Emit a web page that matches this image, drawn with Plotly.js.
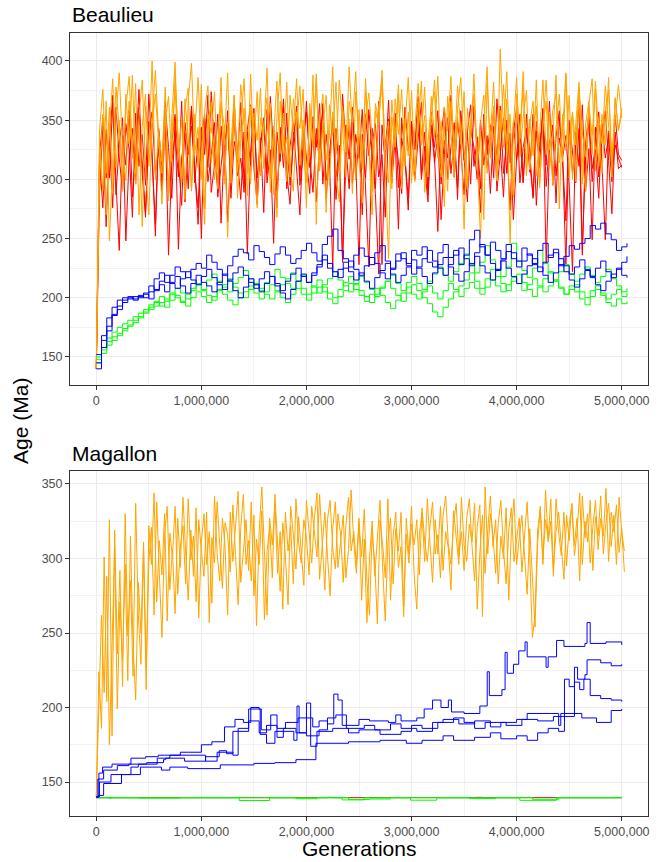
<!DOCTYPE html>
<html><head><meta charset="utf-8">
<script src="https://cdn.plot.ly/plotly-3.0.1.min.js"></script>
<style>html,body{margin:0;padding:0;background:#fff;}#chart{width:660px;height:862px;}</style>
</head><body><div id="chart"></div>
<script>
// ---------- tick labels ----------
const genTicks = [0, 1000000, 2000000, 3000000, 4000000, 5000000];
const genTickLabels = ['0', '1,000,000', '2,000,000', '3,000,000', '4,000,000', '5,000,000'];
const beaAgeTicks = [150, 200, 250, 300, 350, 400];
const magAgeTicks = [150, 200, 250, 300, 350];

// ---------- Beaulieu (sampled every 31,250 generations) ----------
const beaNoisyEvery = 31250;
const beaOrangeA = [140,300,355,270,340,385,310,350,290,372,330,388,305,345,260,362,325,400,300,340,
315,378,282,352,399,320,298,368,335,290,355,310,380,275,342,365,300,322,386,296,
348,312,371,284,333,360,305,389,318,276,352,337,394,301,345,268,366,328,382,310,
290,357,343,376,299,321,388,262,349,372,316,337,395,304,281,362,329,351,288,374,
341,309,385,326,270,358,346,392,315,297,367,334,380,292,352,320,375,306,344,383,
289,331,363,374,318,349,277,370,338,301,359,386,323,295,348,372,312,340,266,381,
327,356,299,410,342,391,314,287,360,335,378,303,351,320,384,296,345,366,309,333,
388,275,355,324,371,300,347,382,318,290,362,337,376,311,355,329,386,302,368,341,356];
const beaOrangeB = [140,330,290,366,248,318,378,342,301,360,387,325,296,352,384,310,270,346,372,331,
305,361,289,339,376,318,352,283,367,398,322,344,300,358,379,314,337,292,363,345,
251,328,371,306,349,385,320,296,356,333,377,309,341,364,287,352,390,318,336,302,
368,344,379,325,297,358,333,386,311,348,272,363,337,382,305,356,323,395,341,300,
359,318,374,336,290,364,349,381,314,233,353,327,372,305,345,386,319,298,366,337,
378,312,350,384,326,302,361,341,387,309,353,330,374,291,349,368,317,250,343,395,
318,362,299,338,380,322,355,285,372,334,391,310,346,366,303,337,384,321,357,295,
344,372,315,388,331,357,298,376,340,319,364,385,307,352,330,379,346,312,369,341,360];
const beaOrangeC = [140,342,376,305,361,288,352,390,327,299,366,318,381,270,345,372,311,356,392,336,
279,349,370,315,387,332,301,359,377,292,343,386,320,262,355,339,374,308,366,329,
390,297,353,317,380,344,286,362,331,374,303,347,369,289,335,383,322,356,298,371,
340,385,312,350,276,364,328,389,307,344,371,295,357,321,384,339,302,366,348,391,
317,280,352,373,334,305,362,386,325,349,292,368,338,376,311,357,297,343,381,329,
354,302,370,336,387,313,345,290,366,323,379,341,258,360,332,389,316,348,371,305,
337,382,299,358,327,368,246,344,386,319,352,375,308,339,362,293,347,384,325,358,
372,314,341,390,301,356,329,378,296,347,366,321,383,337,305,359,375,318,349,380,352];
const beaRedA = [140,290,345,260,332,371,298,240,337,312,358,285,322,376,304,268,349,316,262,341,
298,363,327,284,350,241,318,339,292,360,305,276,344,321,371,289,312,355,263,330,
348,297,365,318,283,340,237,324,356,301,335,272,359,314,345,290,327,368,305,279,
338,352,295,320,366,310,342,281,331,360,299,318,225,343,306,372,329,292,354,317,
228,338,301,359,322,288,220,346,313,367,297,335,258,352,319,284,348,326,370,305,
340,292,357,318,256,336,361,300,327,348,283,354,316,339,296,362,324,272,347,310,
334,358,290,321,352,305,339,266,318,355,298,342,313,286,349,324,360,294,331,345,
280,352,318,337,296,222,340,311,363,290,326,249,344,302,335,358,316,271,340,309,312];
const beaRedB = [140,320,352,301,334,276,361,318,290,347,325,268,356,311,338,295,372,324,252,343,
309,366,287,330,355,314,278,348,321,362,297,335,250,351,310,374,326,292,345,303,
358,284,332,319,365,296,340,312,360,287,328,349,305,370,321,276,344,310,356,295,
331,362,302,345,318,288,353,327,364,296,338,310,352,283,329,230,346,317,361,300,
336,270,355,320,343,292,366,228,330,351,306,340,315,288,361,324,347,300,334,365,
310,281,345,327,358,296,333,318,371,302,349,325,287,340,363,311,336,292,355,321,
346,301,368,329,285,350,314,339,360,297,327,343,306,355,278,332,348,312,366,295,
336,358,317,228,344,305,330,362,240,320,347,298,335,357,313,249,341,306,329,318,310];
const beaRedC = [140,318,276,342,301,365,287,330,352,248,319,343,296,361,313,272,338,357,305,326,
290,349,236,315,338,302,366,281,327,345,309,262,334,355,298,320,348,285,311,339,
264,326,350,303,318,289,342,363,310,279,331,352,297,325,246,340,315,361,292,328,
347,306,270,335,357,318,289,343,312,364,284,322,350,301,327,232,313,345,296,338,
318,359,285,226,330,347,302,321,268,343,311,356,293,335,317,274,349,325,362,300,
328,287,346,314,338,266,321,352,305,334,293,358,318,281,342,327,300,350,312,337,
288,345,320,362,305,331,274,348,316,339,297,355,323,284,341,310,359,229,328,346,
303,335,317,265,350,322,297,343,236,331,356,309,325,284,347,318,336,298,354,321,316];

// ---------- Beaulieu (sampled every 50,000 generations) ----------
const beaStepEvery = 50000;
const beaBlue1 = [145,168,183,192,198,200,201,199,202,200,205,216,221,213,219,226,222,217,224,229,225,
236,230,224,219,227,235,241,238,232,244,
239,234,228,237,243,236,229,233,240,246,
238,231,245,252,258,240,233,226,236,242,
235,228,238,244,231,225,237,233,229,240,
236,243,230,226,238,245,234,240,228,236,
249,257,243,236,247,240,233,245,238,231,
242,236,229,240,246,234,238,227,235,244,
241,246,250,261,258,263,254,249,240,243,246];
const beaBlue2 = [140,158,176,186,190,196,199,201,200,204,210,207,214,219,212,208,216,222,215,211,218,
224,217,211,207,215,221,226,219,213,208,
216,222,218,212,206,214,220,225,218,213,
221,228,236,229,222,217,225,231,224,219,
227,234,229,221,216,224,231,238,227,220,
226,233,240,231,225,219,228,236,242,233,
227,238,245,236,229,223,232,239,233,226,
231,237,228,222,230,236,241,233,227,220,
226,232,224,218,225,231,222,217,224,230,235];
const beaBlue3 = [152,164,172,185,193,198,200,198,201,203,199,206,211,205,213,218,210,204,212,219,213,
210,205,213,220,214,206,200,209,216,211,
205,212,218,210,204,199,207,214,220,213,
219,226,232,225,218,224,230,222,215,221,
214,208,217,223,229,220,213,219,226,232,
225,218,212,221,228,234,226,220,214,222,
229,235,227,221,215,224,231,225,218,212,
220,227,233,226,219,213,221,228,222,215,
209,216,223,217,211,206,214,220,225,219,217];
const beaGreen1 = [150,158,166,171,175,178,181,184,187,190,194,197,193,199,204,200,196,203,208,212,206,
202,198,206,211,216,209,204,200,207,212,
208,203,199,205,211,216,221,214,208,203,
210,215,209,204,200,207,213,218,211,206,
201,196,203,209,214,208,202,197,204,211,
206,200,195,188,184,192,199,205,210,215,
221,214,208,216,224,218,212,206,214,220,
213,207,201,209,216,222,215,209,203,210,
205,199,194,201,207,202,196,193,199,195,197];
const beaGreen2 = [145,156,163,167,170,174,177,181,184,188,192,196,201,197,203,208,204,199,206,211,207,
215,220,214,209,205,212,217,223,216,211,
206,213,218,224,217,212,208,214,219,213,
209,204,211,216,222,215,210,205,212,218,
213,207,201,208,214,219,212,206,213,218,
212,207,214,220,226,219,214,222,229,237,
228,221,230,244,232,224,218,226,246,231,
223,217,225,240,229,221,215,222,228,220,
214,220,226,219,213,218,224,216,210,205,208];
const beaGreen3 = [148,153,160,164,168,172,176,179,183,187,190,193,196,192,198,202,197,193,200,205,201,
196,201,207,203,198,194,200,205,210,204,
199,205,211,206,200,196,203,208,203,198,
204,209,205,199,195,201,206,212,207,202,
197,203,208,202,196,191,198,204,209,203,
199,205,210,204,199,206,212,207,201,208,
213,208,203,209,215,210,205,211,217,212,
206,211,216,210,205,210,214,208,203,207,
211,205,200,206,210,204,199,203,207,201,204];

// ---------- Magallon (sampled every 25,000 generations) ----------
const magOrangeEvery = 25000;
const magOrangeA = [140,224,186,301,204,326,181,319,236,292,214,330,248,285,221,337,262,229,305,212,322,
296,344,271,312,289,330,258,317,301,335,276,308,322,283,340,299,315,271,326,305,
288,331,257,314,297,338,309,280,324,316,291,336,302,269,321,343,296,312,285,329,
255,318,348,300,262,327,309,337,290,318,266,331,305,322,283,340,311,297,326,314,
289,335,318,301,343,312,279,326,339,307,293,330,316,284,322,341,305,318,296,327,
272,313,257,300,325,288,317,339,294,258,311,327,283,320,305,331,268,316,297,323,
309,326,289,334,312,298,321,338,303,316,287,329,342,310,296,324,337,301,318,292,
327,340,309,285,321,336,261,348,303,330,316,290,324,339,306,283,319,334,298,312,
327,291,317,338,301,247,262,319,333,296,346,311,325,288,340,317,302,331,295,322,
336,309,327,285,342,314,330,297,321,339,306,327,315,347,298,331,318,336,304,320,291];
const magOrangeB = [140,196,262,210,288,175,247,308,199,271,232,296,218,315,243,205,284,250,311,226,298,
321,262,338,290,247,316,335,279,306,263,327,294,341,305,272,319,288,334,260,311,
330,296,318,270,342,303,285,327,309,262,331,298,319,345,284,307,326,292,338,275,
313,296,332,259,305,321,287,343,311,278,324,301,269,335,316,293,328,306,282,339,
318,297,326,344,286,309,331,302,275,320,338,294,313,329,287,306,346,311,290,324,
301,333,285,262,318,297,256,326,309,287,340,272,315,331,294,308,261,327,303,335,
289,266,317,331,298,340,311,284,326,303,335,292,318,307,279,332,314,296,341,309,
298,323,311,337,266,304,329,290,319,342,308,326,283,315,300,334,272,318,340,296,
314,329,302,276,320,289,254,310,335,299,326,313,340,293,318,331,307,286,329,312,
337,302,318,344,296,325,311,339,292,328,315,342,303,324,337,308,329,296,341,318,305];

// blue / green / red chains: generation at which each new state was accepted, and its age
const magBlue1Gen = [0,25000,60000,150000,330000,470000,590000,800000,1000000,1100000,1220000,1320000,1400000,1470000,1550000,1570000,1660000,1720000,1800000,1920000,2060000,2120000,2200000,2260000,2300000,2340000,2500000,2600000,2780000,2850000,2900000,3050000,3120000,3200000,3280000,3350000,3380000,3500000,3650000,3720000,3740000,3860000,3890000,3910000,3970000,4020000,4080000,4100000,4280000,4300000,4380000,4450000,4650000,4670000,4700000,4850000,5000000];
const magBlue1Age = [140,156,160,162,166,167,168,170,175,177,187,192,190,200,199,185,195,186,190,193,187,191,189,209,205,188,192,191,190,195,191,193,199,205,200,205,197,196,201,224,208,212,237,223,229,238,244,234,227,234,245,241,243,257,243,244,242];
const magBlue2Gen = [0,15000,70000,200000,310000,480000,640000,660000,840000,1040000,1170000,1240000,1300000,1450000,1560000,1620000,1700000,1880000,1910000,1930000,2000000,2040000,2100000,2250000,2400000,2500000,2700000,2900000,3000000,3100000,3250000,3400000,3500000,3600000,3700000,3900000,4050000,4200000,4350000,4550000,4580000,4650000,4670000,4800000,4900000,5000000];
const magBlue2Age = [140,152,158,161,162,163,165,166,164,167,171,169,184,199,182,176,184,178,201,183,203,174,184,186,183,185,182,184,188,186,190,193,190,186,190,188,192,191,194,227,219,222,232,230,228,229];
const magBlue3Gen = [0,20000,70000,240000,420000,620000,700000,870000,1180000,1500000,1700000,1900000,2090000,2400000,2700000,2950000,3100000,3300000,3400000,3600000,3750000,3850000,4000000,4100000,4200000,4300000,4400000,4455000,4500000,4550000,4600000,4640000,4700000,4800000,4900000,5000000];
const magBlue3Age = [140,141,149,155,160,158,160,159,161.5,162.5,163,165,176,177,178,176,178,181,178,180,183,179,181,178,183,186,184,219,214,217,212,219,208,206,205,204];
const magBlue4Gen = [0,30000,140000,330000,400000,580000,700000,1040000,1150000,1300000,1350000,1450000,1550000,1620000,1720000,1780000,1900000,2000000,2120000,2200000,2280000,2380000,2550000,2650000,2800000,2900000,3050000,3200000,3300000,3450000,3600000,3750000,3850000,4000000,4100000,4320000,4400000,4420000,4620000,4760000,4900000,5000000];
const magBlue4Age = [140,150,155,160,162,166,168,164,170,168,186,191,183,188,180,186,183,181,185,193,195,186,188,185,189,186,184,190,192,189,191,187,190,192,196,196,188,196,193,190,198,199];
const magGreen1Gen = [0,120000,140000,1360000,1650000,2340000,2550000,2990000,3240000,4030000,4380000,5000000];
const magGreen1Age = [139.4,139.1,139.4,137.6,139.4,138.0,139.4,137.8,139.4,137.7,139.4,139.4];
const magGreen2Gen = [0,400000,800000,1900000,2100000,2400000,2600000,2800000,3550000,3800000,4150000,4400000,5000000];
const magGreen2Age = [139.5,139.2,139.5,138.8,139.5,138.3,138.6,139.5,138.9,139.5,138.4,139.5,139.5];
const magRedGen = [0,2200000,2260000,3600000,3680000,5000000];
const magRedAge = [139.5,139.7,139.5,139.7,139.5,139.5];

// ---------- build ----------
function sampleGens(n, every) { const g = []; for (let i = 0; i < n; i++) g.push(i * every); return g; }
const RED = '#FF0000', ORANGE = '#FFA500', GREEN = '#00FF00', BLUE = '#0000FF';
function tr(x, y, color, xa, ya, shape) {
  return {x: x, y: y, type: 'scatter', mode: 'lines', xaxis: xa, yaxis: ya,
          line: {color: color, width: 1, shape: shape || 'linear'}, hoverinfo: 'skip'};
}
const traces = [];
[beaRedA, beaRedB, beaRedC].forEach(s => traces.push(tr(sampleGens(s.length, beaNoisyEvery), s, RED, 'x', 'y')));
[beaOrangeA, beaOrangeB, beaOrangeC].forEach(s => traces.push(tr(sampleGens(s.length, beaNoisyEvery), s, ORANGE, 'x', 'y')));
[beaGreen1, beaGreen2, beaGreen3].forEach(s => traces.push(tr(sampleGens(s.length, beaStepEvery), s, GREEN, 'x', 'y', 'hv')));
[beaBlue1, beaBlue2, beaBlue3].forEach(s => traces.push(tr(sampleGens(s.length, beaStepEvery), s, BLUE, 'x', 'y', 'hv')));

traces.push(tr(magRedGen, magRedAge, RED, 'x2', 'y2', 'hv'));
[magOrangeA, magOrangeB].forEach(s => traces.push(tr(sampleGens(s.length, magOrangeEvery), s, ORANGE, 'x2', 'y2')));
traces.push(tr(magGreen1Gen, magGreen1Age, GREEN, 'x2', 'y2', 'hv'));
traces.push(tr(magGreen2Gen, magGreen2Age, GREEN, 'x2', 'y2', 'hv'));
[[magBlue1Gen, magBlue1Age], [magBlue2Gen, magBlue2Age], [magBlue3Gen, magBlue3Age], [magBlue4Gen, magBlue4Age]]
  .forEach(c => traces.push(tr(c[0], c[1], BLUE, 'x2', 'y2', 'hv')));

const axisStyle = {
  showline: true, linecolor: '#333333', linewidth: 1, mirror: true,
  ticks: 'outside', ticklen: 4, tickwidth: 1, tickcolor: '#333333',
  showgrid: true, gridcolor: '#ebebeb', gridwidth: 1, zeroline: false,
  tickfont: {family: 'Liberation Sans, Arial, sans-serif', size: 12.5, color: '#4d4d4d'}
};
function xAxis(anchor) {
  return Object.assign({}, axisStyle, {anchor: anchor, domain: [0, 1], range: [-250000, 5250000],
    tickmode: 'array', tickvals: genTicks, ticktext: genTickLabels,
    minor: {dtick: 500000, tick0: 0, showgrid: true, gridcolor: '#f2f2f2', gridwidth: 1, ticks: ''}});
}
function yAxis(anchor, domain, range, ticks) {
  return Object.assign({}, axisStyle, {anchor: anchor, domain: domain, range: range,
    tickmode: 'array', tickvals: ticks, ticktext: ticks.map(String),
    minor: {dtick: 25, tick0: 0, showgrid: true, gridcolor: '#f2f2f2', gridwidth: 1, ticks: ''}});
}
const titleFont = {family: 'Liberation Sans, Arial, sans-serif', size: 21, color: '#000000'};
const layout = {
  width: 660, height: 862,
  margin: {l: 70, r: 12, t: 33, b: 46},
  paper_bgcolor: '#ffffff', plot_bgcolor: '#ffffff',
  showlegend: false,
  xaxis: xAxis('y'),
  yaxis: yAxis('x', [0.5504, 1], [126.3, 423.6], beaAgeTicks),
  xaxis2: xAxis('y2'),
  yaxis2: yAxis('x2', [0, 0.4406], [127.2, 358.7], magAgeTicks),
  annotations: [
    {text: 'Beaulieu', xref: 'paper', yref: 'paper', x: 0, y: 1.0230, xanchor: 'left', yanchor: 'middle', showarrow: false, font: titleFont},
    {text: 'Magallon', xref: 'paper', yref: 'paper', x: 0, y: 0.4636, xanchor: 'left', yanchor: 'middle', showarrow: false, font: titleFont},
    {text: 'Age (Ma)', xref: 'paper', yref: 'paper', x: -0.0848, y: 0.5045, xanchor: 'center', yanchor: 'middle', textangle: -90, showarrow: false, font: titleFont},
    {text: 'Generations', xref: 'paper', yref: 'paper', x: 0.5, y: -0.0421, xanchor: 'center', yanchor: 'middle', showarrow: false, font: titleFont}
  ]
};
Plotly.newPlot('chart', traces, layout, {staticPlot: true, displayModeBar: false});
</script>
</body></html>
